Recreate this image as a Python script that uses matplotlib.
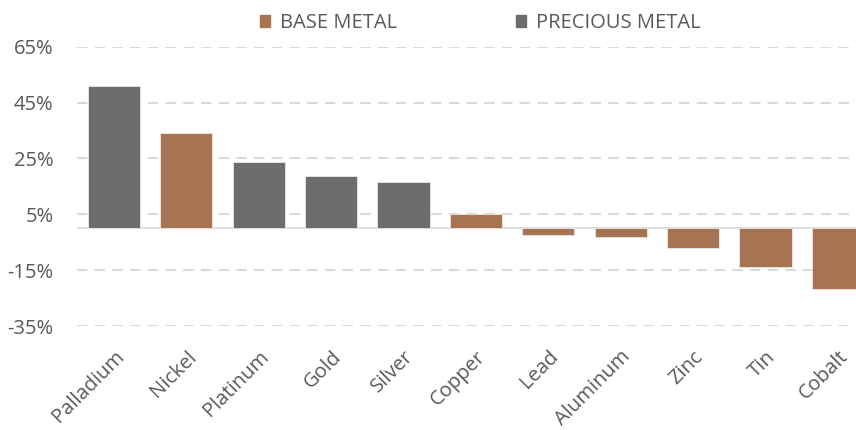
import matplotlib
matplotlib.use("Agg")
import matplotlib.pyplot as plt
from matplotlib.patches import Patch

plt.rcParams['font.family'] = ['Open Sans', 'DejaVu Sans']

# data
metals = ["Palladium", "Nickel", "Platinum", "Gold", "Silver", "Copper",
          "Lead", "Aluminum", "Zinc", "Tin", "Cobalt"]
change = [51.0, 34.2, 23.6, 18.6, 16.7, 5.2, -2.4, -3.2, -7.0, -14.0, -21.7]
kind = ["precious", "base", "precious", "precious", "precious", "base",
        "base", "base", "base", "base", "base"]
yticks = [65, 45, 25, 5, -15, -35]

colors = {"base": "#A67453", "precious": "#6D6D6D"}
txt = "#595959"
fs = 14.5

fig = plt.figure(figsize=(8.56, 4.3), dpi=100)
ax = fig.add_axes([77 / 856, 1 - 326 / 430, 1 - 77 / 856, (326 - 46.7) / 430])

x = list(range(len(metals)))
ax.bar(x, change, width=0.72, color=[colors[k] for k in kind],
       edgecolor="#F2E6DE", linewidth=0.6, zorder=3)

for t in yticks:
    ax.axhline(t, color="#D9D9D9", lw=1.5, dashes=(5, 3.5), zorder=1)
ax.axhline(0, color="#D9D9D9", lw=1.2, zorder=2)

ax.set_xlim(-0.51, 10.25)
ax.set_ylim(-35, 65)
ax.set_yticks(yticks)
ax.set_yticklabels([f"{t}%" for t in yticks], fontsize=fs, color=txt)
ax.set_xticks(x)
ax.set_xticklabels(metals, rotation=45, ha="right", rotation_mode="anchor",
                   fontsize=fs, color=txt)
ax.tick_params(axis="y", length=0, pad=17)
ax.tick_params(axis="x", length=0, pad=15)
for s in ax.spines.values():
    s.set_visible(False)
ax.grid(False)

handles = [Patch(color=colors["base"], label="BASE METAL"),
           Patch(color=colors["precious"], label="PRECIOUS METAL")]
leg = fig.legend(handles=handles, loc="center", bbox_to_anchor=(0.561, 1 - 23 / 430),
                 ncol=2, frameon=False, fontsize=fs, handlelength=0.5,
                 handleheight=0.5, handletextpad=0.5, columnspacing=5.9,
                 borderpad=0)
for t in leg.get_texts():
    t.set_color(txt)

fig.savefig("out.png", dpi=100)
